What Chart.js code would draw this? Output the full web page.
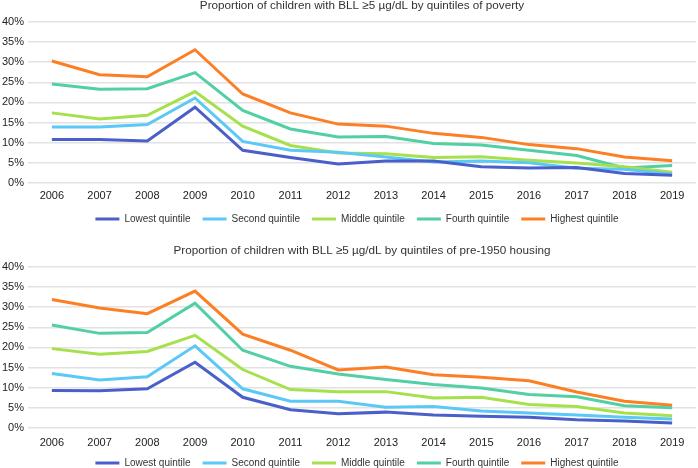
<!DOCTYPE html>
<html>
<head>
<meta charset="utf-8">
<script src="https://cdn.jsdelivr.net/npm/chart.js@4/dist/chart.umd.min.js"></script>
<style>
    html, body { margin: 0; padding: 0; background: #fff; }
    body { width: 698px; height: 468px; position: relative; overflow: hidden; }
    .panel { position: absolute; left: -2px; width: 700px; }
    #topPanel { top: -2px; height: 244px; }
    #bottomPanel { top: 243px; height: 248px; }
</style>
</head>
<body>
<div class="panel" id="topPanel"><canvas id="povertyChart"></canvas></div>
<div class="panel" id="bottomPanel"><canvas id="housingChart"></canvas></div>
<script>
const years = ['2006', '2007', '2008', '2009', '2010', '2011', '2012', '2013', '2014', '2015', '2016', '2017', '2018', '2019'];
const quintileNames = ['Lowest quintile', 'Second quintile', 'Middle quintile', 'Fourth quintile', 'Highest quintile'];
const quintileColors = ['#4a5fc9', '#5bc8f6', '#a6e04c', '#52cfa4', '#fd7f24'];
const yTicks = [0, 5, 10, 15, 20, 25, 30, 35, 40];

// poverty quintiles (% of children with BLL >= 5)
const povertyLowest  = [10.8, 10.8, 10.4, 18.8, 8.1, 6.3, 4.7, 5.4, 5.4, 4.0, 3.7, 3.8, 2.3, 1.9];
const povertySecond  = [13.9, 13.9, 14.5, 21.1, 10.3, 8.1, 7.6, 6.4, 5.2, 5.4, 5.0, 3.6, 3.4, 2.1];
const povertyMiddle  = [17.4, 15.9, 16.8, 22.7, 14.1, 9.3, 7.4, 7.2, 6.3, 6.5, 5.6, 4.9, 4.0, 2.6];
const povertyFourth  = [24.6, 23.3, 23.4, 27.4, 18.0, 13.4, 11.4, 11.5, 9.8, 9.4, 8.1, 6.8, 3.7, 4.3];
const povertyHighest = [30.3, 26.9, 26.4, 33.1, 22.1, 17.4, 14.6, 14.1, 12.3, 11.3, 9.5, 8.5, 6.4, 5.5];

// pre-1950 housing quintiles
const housingLowest  = [9.3, 9.2, 9.7, 16.3, 7.6, 4.5, 3.5, 3.9, 3.2, 2.9, 2.6, 2.0, 1.7, 1.2];
const housingSecond  = [13.5, 11.9, 12.7, 20.4, 9.7, 6.6, 6.6, 5.1, 5.3, 4.2, 3.7, 3.2, 2.6, 2.2];
const housingMiddle  = [19.7, 18.3, 19.0, 23.0, 14.5, 9.5, 9.0, 9.0, 7.4, 7.6, 5.8, 5.3, 3.7, 3.0];
const housingFourth  = [25.6, 23.5, 23.7, 31.0, 19.3, 15.3, 13.4, 12.0, 10.8, 9.9, 8.3, 7.7, 5.5, 5.0];
const housingHighest = [31.9, 29.8, 28.4, 34.0, 23.3, 19.3, 14.4, 15.1, 13.2, 12.6, 11.7, 8.9, 6.6, 5.6];

const FONT = "'Liberation Sans', Arial, Helvetica, sans-serif";

// the legend sits a bit tighter under the axis (and slightly left) in the original
const legendNudge = {
    id: 'legendNudge',
    afterLayout(chart, args, opts) {
        const legend = chart.legend;
        if (!legend) return;
        const lift = opts.lift || 0;
        legend.top -= lift;
        legend.bottom -= lift;
        legend.left -= 5;
        legend.right -= 5;
    }
};

document.addEventListener('DOMContentLoaded', function () {
    drawQuintileChart('povertyChart',
        'Proportion of children with BLL \u22655 \u00b5g/dL by quintiles of poverty',
        [povertyLowest, povertySecond, povertyMiddle, povertyFourth, povertyHighest], 7, 8);
    drawQuintileChart('housingChart',
        'Proportion of children with BLL \u22655 \u00b5g/dL by quintiles of pre-1950 housing',
        [housingLowest, housingSecond, housingMiddle, housingFourth, housingHighest], 9, 13);
});

function drawQuintileChart(canvasId, title, seriesList, xPad, legendLift) {
    const canvas = document.getElementById(canvasId);
    if (!canvas || typeof Chart === 'undefined') return;

    const datasets = seriesList.map((values, i) => ({
        label: quintileNames[i],
        data: values,
        borderColor: quintileColors[i],
        backgroundColor: quintileColors[i],
        borderWidth: 3,
        pointRadius: 0,
        tension: 0,
        fill: false
    }));

    new Chart(canvas.getContext('2d'), {
        type: 'line',
        data: { labels: years, datasets: datasets },
        plugins: [legendNudge],
        options: {
            responsive: true,
            maintainAspectRatio: false,
            animation: false,
            layout: { padding: { left: 0, right: 2, top: 0, bottom: 0 } },
            plugins: {
                legendNudge: { lift: legendLift },
                title: {
                    display: true,
                    text: title,
                    fullSize: false,
                    color: '#333',
                    font: { family: FONT, size: 11.7, weight: 'normal' },
                    padding: { top: 1, bottom: 9 }
                },
                legend: {
                    position: 'bottom',
                    fullSize: false,
                    labels: {
                        color: '#333',
                        font: { family: FONT, size: 10 },
                        usePointStyle: true,
                        pointStyle: 'line',
                        pointStyleWidth: 24,
                        boxHeight: 10,
                        padding: 12
                    }
                },
                tooltip: { enabled: false }
            },
            scales: {
                x: {
                    offset: true,
                    grid: { display: false, drawTicks: false },
                    border: { display: false },
                    ticks: {
                        color: '#222',
                        font: { family: FONT, size: 11 },
                        maxRotation: 0,
                        autoSkip: false,
                        padding: xPad
                    }
                },
                y: {
                    min: yTicks[0],
                    max: yTicks[yTicks.length - 1],
                    afterBuildTicks: axis => { axis.ticks = yTicks.map(v => ({ value: v })); },
                    grid: { color: '#e2e2e2', lineWidth: 1.5, drawTicks: false },
                    border: { display: false },
                    ticks: {
                        color: '#222',
                        font: { family: FONT, size: 11 },
                        padding: 4,
                        callback: value => value + '%'
                    }
                }
            }
        }
    });
}
</script>
</body>
</html>
